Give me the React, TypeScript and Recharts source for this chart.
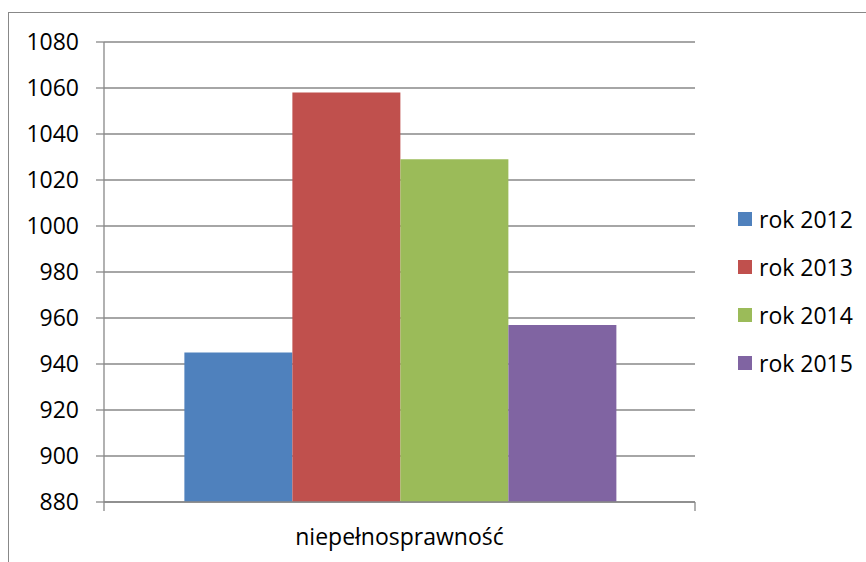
import { BarChart, Bar, XAxis, YAxis, CartesianGrid, Legend } from 'recharts'

const categories = ['niepełnosprawność']
const seriesNames = ['rok 2012', 'rok 2013', 'rok 2014', 'rok 2015']
const rok2012 = [945]
const rok2013 = [1058]
const rok2014 = [1029]
const rok2015 = [957]
const yTicks = [880, 900, 920, 940, 960, 980, 1000, 1020, 1040, 1060, 1080]

const colors = ['#4F81BD', '#C0504D', '#9BBB59', '#8064A2']
const gray = '#888888'
const font = '"Open Sans", sans-serif'
const catMargin = 27

const seriesValues = [rok2012, rok2013, rok2014, rok2015]

const data = categories.map((name, i) => {
  const row: any = { name }
  seriesNames.forEach((s, j) => {
    row[s] = seriesValues[j][i]
  })
  return row
})

// category label in the middle, Excel-style tick marks on the band edges
function CategoryTick({ x, y, payload }: any) {
  const half = payload && payload.offset ? payload.offset : 0
  const axisY = y - catMargin
  return (
    <g>
      {half > 0 && (
        <>
          <line x1={x - half} x2={x - half} y1={axisY} y2={axisY + 9} stroke={gray} strokeWidth={1.3} />
          <line x1={x + half} x2={x + half} y1={axisY} y2={axisY + 9} stroke={gray} strokeWidth={1.3} />
        </>
      )}
      <text x={x} y={y} dy="0.71em" textAnchor="middle" fill="#000" fontSize={23} fontFamily={font}>
        {payload.value}
      </text>
    </g>
  )
}

function LegendBox({ payload }: any) {
  return (
    <div style={{ fontFamily: font, fontSize: 23, color: '#000' }}>
      {(payload || []).map((p: any) => (
        <div key={p.value} style={{ display: 'flex', alignItems: 'center', height: 48 }}>
          <span style={{ width: 14, height: 14, background: p.color, marginRight: 7 }} />
          <span>{p.value}</span>
        </div>
      ))}
    </div>
  )
}

export default function App() {
  return (
    <div style={{ position: 'absolute', left: 0, top: 0, width: 866, height: 562, overflow: 'hidden', background: '#fff' }}>
      <div
        style={{
          position: 'absolute',
          left: 8,
          top: 12,
          width: 900,
          height: 600,
          border: `1px solid ${gray}`,
        }}
      />
      <div style={{ position: 'absolute', left: 0, top: 0 }}>
        <BarChart
          width={866}
          height={562}
          data={data}
          margin={{ top: 42, right: 171, bottom: 0, left: 0 }}
          barCategoryGap="13.6%"
          barGap={0}
        >
          <CartesianGrid vertical={false} stroke={gray} strokeWidth={1.3} />
          <XAxis
            dataKey="name"
            height={60}
            tickSize={0}
            tickMargin={catMargin}
            axisLine={{ stroke: gray, strokeWidth: 1.3 }}
            tickLine={false}
            tick={<CategoryTick />}
          />
          <YAxis
            domain={[880, 1080]}
            ticks={yTicks}
            width={104}
            tickSize={8}
            tickMargin={17}
            axisLine={{ stroke: gray, strokeWidth: 1.3 }}
            tickLine={{ stroke: gray, strokeWidth: 1.3 }}
            tick={{ fill: '#000', fontSize: 23, fontFamily: font }}
          />
          <Legend
            layout="vertical"
            align="center"
            verticalAlign="middle"
            content={<LegendBox />}
            wrapperStyle={{ left: 738, top: 195, width: 128 }}
          />
          {seriesNames.map((s, i) => (
            <Bar key={s} dataKey={s} fill={colors[i]} isAnimationActive={false} />
          ))}
        </BarChart>
      </div>
    </div>
  )
}
